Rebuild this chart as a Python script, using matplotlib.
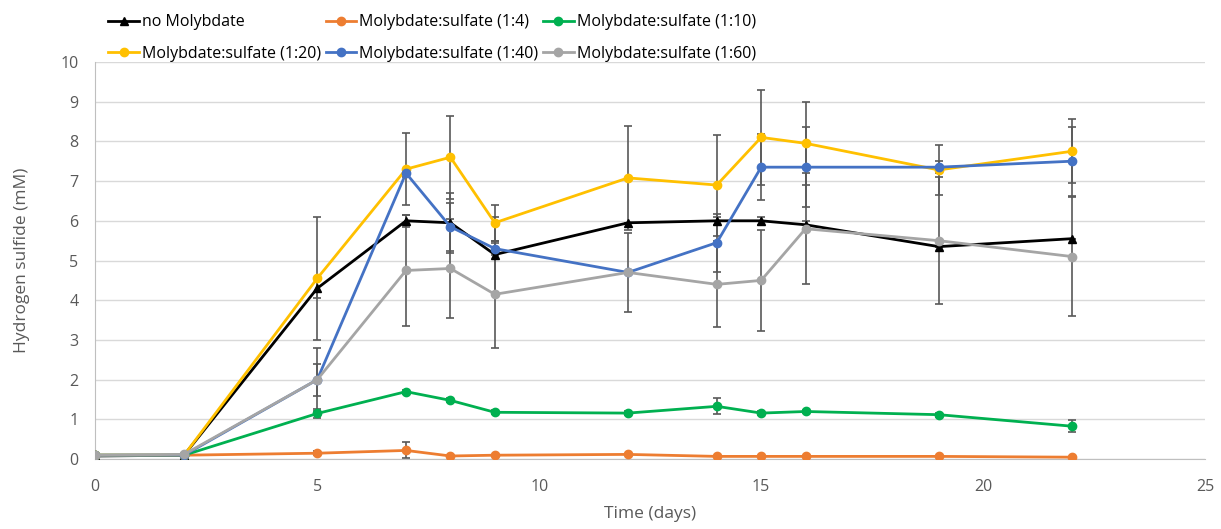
import numpy as np
from matplotlib import pyplot as plt

plt.rcParams['font.family'] = ['Open Sans', 'DejaVu Sans']

# DATA
days = [0, 2, 5, 7, 8, 9, 12, 14, 15, 16, 19, 22]

no_moly = [0.08, 0.1, 4.3, 6.0, 5.95, 5.15, 5.95, 6.0, 6.0, 5.9, 5.35, 5.55]
r1_4 = [0.1, 0.1, 0.15, 0.22, 0.08, 0.1, 0.12, 0.07, 0.07, 0.07, 0.07, 0.05]
r1_10 = [0.1, 0.1, 1.15, 1.7, 1.48, 1.18, 1.16, 1.33, 1.16, 1.2, 1.12, 0.83]
r1_20 = [0.1, 0.1, 4.55, 7.3, 7.6, 5.95, 7.08, 6.9, 8.1, 7.95, 7.28, 7.75]
r1_40 = [0.1, 0.1, 2.0, 7.2, 5.85, 5.3, 4.7, 5.45, 7.35, 7.35, 7.35, 7.5]
r1_60 = [0.1, 0.12, 2.0, 4.75, 4.8, 4.15, 4.7, 4.4, 4.5, 5.8, 5.5, 5.1]

# error bars (standard deviations)
err_no_moly = [0, 0, 0.25, 0.15, 0.75, 0.95, 0, 0.1, 0.1, 0.1, 0, 0]
err_1_4 = [0, 0, 0.05, 0.2, 0, 0, 0, 0, 0, 0, 0, 0]
err_1_10 = [0, 0, 0.12, 0.05, 0.05, 0.05, 0.05, 0.2, 0.05, 0.05, 0.05, 0.15]
err_1_20 = [0, 0, 1.55, 0.9, 1.05, 0.45, 1.3, 1.27, 1.2, 1.05, 0.62, 0.8]
err_1_40 = [0, 0, 0.4, 0.1, 0.6, 0.15, 0, 0.73, 0.83, 1.0, 0.15, 0.87]
err_1_60 = [0, 0, 0.8, 1.4, 1.25, 1.35, 1.0, 1.08, 1.27, 1.4, 1.6, 1.5]

series = [
    ("no Molybdate", no_moly, err_no_moly, "black", "^"),
    ("Molybdate:sulfate (1:4)", r1_4, err_1_4, "#ED7D31", "o"),
    ("Molybdate:sulfate (1:10)", r1_10, err_1_10, "#00B050", "o"),
    ("Molybdate:sulfate (1:20)", r1_20, err_1_20, "#FFC000", "o"),
    ("Molybdate:sulfate (1:40)", r1_40, err_1_40, "#4472C4", "o"),
    ("Molybdate:sulfate (1:60)", r1_60, err_1_60, "#A5A5A5", "o"),
]

fig = plt.figure(figsize=(12.21, 5.29), dpi=100)
ax = fig.add_axes([0.078, 0.132, 0.909, 0.751])

handles = []
for name, y, err, col, mk in series:
    ax.errorbar(days, y, yerr=err, fmt='none', ecolor='#595959',
                elinewidth=1.2, capsize=3, capthick=1.2, zorder=2)
    h, = ax.plot(days, y, color=col, marker=mk, markersize=6,
                 linewidth=2, label=name, zorder=3)
    handles.append(h)

ax.set_xlim(0, 25)
ax.set_ylim(0, 10)
ax.set_xticks(np.arange(0, 26, 5))
ax.set_yticks(np.arange(0, 11, 1))
ax.grid(axis='y', color='#D9D9D9', linewidth=1)
ax.set_axisbelow(True)
for s in ['top', 'right']:
    ax.spines[s].set_visible(False)
for s in ['left', 'bottom']:
    ax.spines[s].set_color('#BFBFBF')
ax.tick_params(length=0, labelsize=11.5, colors='#595959')
ax.tick_params(axis='x', pad=14)
ax.tick_params(axis='y', pad=12)
ax.set_xlabel("Time (days)", fontsize=12.5, color='#595959', labelpad=8)
ax.set_ylabel("Hydrogen sulfide (mM)", fontsize=12.5, color='#595959', labelpad=22)

order = [0, 3, 1, 4, 2, 5]
leg = fig.legend([handles[i] for i in order], [series[i][0] for i in order],
                 ncol=3, loc='upper left', bbox_to_anchor=(0.077, 1.0),
                 frameon=False, fontsize=11.5, handlelength=1.9,
                 columnspacing=0.3, handletextpad=0.2, labelspacing=0.95)

fig.savefig("out.png", dpi=100)
